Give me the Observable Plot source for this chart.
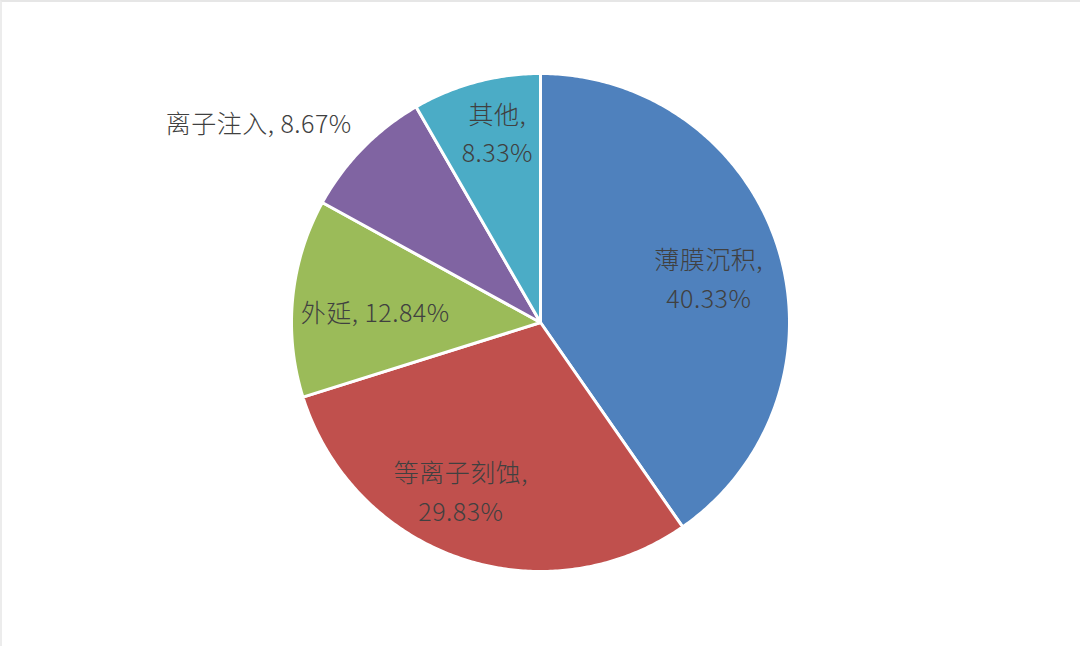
<!DOCTYPE html>
<html>
<head>
<meta charset="utf-8">
<script src="https://cdn.jsdelivr.net/npm/d3@7"></script>
<script src="https://cdn.jsdelivr.net/npm/@observablehq/plot@0.6"></script>
<style>
  html, body { margin: 0; padding: 0; background: #fff; }
  #chart { width: 1080px; height: 646px; box-sizing: border-box; border-top: 2px solid #e6e6e6; border-left: 2px solid #ececec; overflow: hidden; }
  #chart text { letter-spacing: 0.5px; }
</style>
</head>
<body>
<div id="chart"></div>
<script>
// Data
const categories = ["薄膜沉积", "等离子刻蚀", "外延", "离子注入", "其他"];
const shares = [40.33, 29.83, 12.84, 8.67, 8.33];
const colors = ["#4F81BD", "#C0504D", "#9BBB59", "#8064A2", "#4BACC6"];
const labelTexts = ["薄膜沉积,\n40.33%", "等离子刻蚀,\n29.83%", "外延, 12.84%", "离子注入, 8.67%", "其他,\n8.33%"];
// Label placement (radius fraction and angle shift in degrees)
const labelRadius = [0.696, 0.76, 0.665, 1.38, 0.77];
const labelShift = [3.5, 6, -2.9, -9.5, 2];

const W = 1080, H = 646, R = 249, CX = 540, CY = 322;

const pie = d3.pie().sort(null).value(d => d)(shares);

// slice polygons
const polys = [];
pie.forEach((p, i) => {
  const n = Math.max(4, Math.ceil((p.endAngle - p.startAngle) / 0.01));
  polys.push({name: categories[i], x: 0, y: 0});
  for (let j = 0; j <= n; j++) {
    const a = p.startAngle + (p.endAngle - p.startAngle) * j / n;
    polys.push({name: categories[i], x: Math.sin(a), y: Math.cos(a)});
  }
  polys.push({name: categories[i], x: 0, y: 0});
});

const labels = pie.map((p, i) => {
  const a = (p.startAngle + p.endAngle) / 2 + labelShift[i] * Math.PI / 180;
  return {text: labelTexts[i], x: labelRadius[i] * Math.sin(a), y: labelRadius[i] * Math.cos(a)};
});

const plot = Plot.plot({
  width: W - 2,
  height: H - 2,
  margin: 0,
  x: {domain: [-(CX - 2) / R, (W - CX) / R], axis: null},
  y: {domain: [-(H - CY) / R, (CY - 2) / R], axis: null},
  color: {domain: categories, range: colors},
  style: {fontFamily: "'Noto Sans CJK SC', 'Noto Sans', sans-serif", background: "#fff"},
  marks: [
    Plot.line(polys, {x: "x", y: "y", z: "name", fill: "name", stroke: "white", strokeWidth: 3, strokeLinejoin: "round", curve: "linear"}),
    Plot.text(labels, {x: "x", y: "y", text: "text", fill: "#404040", fontSize: 25, fontWeight: 300, lineHeight: 1.55, dy: -5})
  ]
});
document.getElementById("chart").appendChild(plot);
</script>
</body>
</html>
